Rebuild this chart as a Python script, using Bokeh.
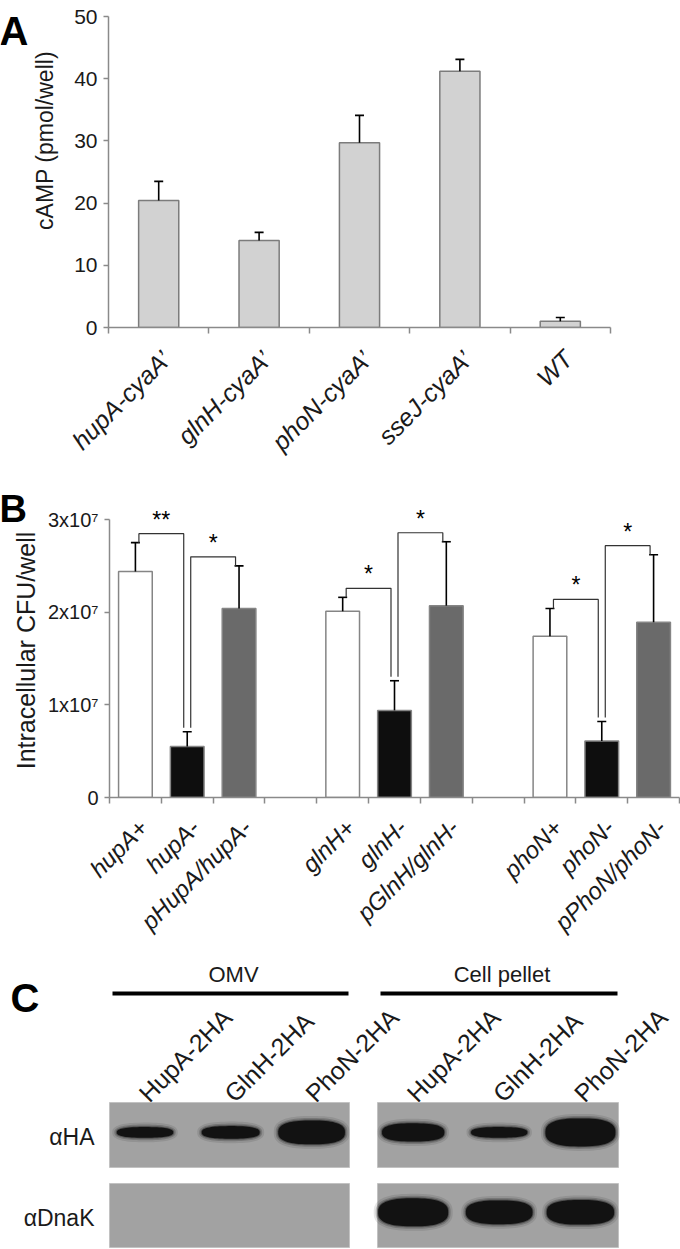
import numpy as np
from bokeh.plotting import figure
from bokeh.models import Range1d, FixedTicker
from bokeh.layouts import column, row
from bokeh.embed import file_html
from bokeh.resources import INLINE
from bokeh.core.properties import value

# ---------------- data ----------------
# Panel A: cAMP (pmol/well)
a_categories = ["hupA-cyaA\u2019", "glnH-cyaA\u2019", "phoN-cyaA\u2019", "sseJ-cyaA\u2019", "WT"]
a_camp = [20.4, 14.0, 29.7, 41.2, 1.0]
a_sd = [3.1, 1.3, 4.4, 1.9, 0.6]
a_yticks = [0, 10, 20, 30, 40, 50]

# Panel B: intracellular CFU/well
b_strains = ["hupA+", "hupA-", "pHupA/hupA-",
             "glnH+", "glnH-", "pGlnH/glnH-",
             "phoN+", "phoN-", "pPhoN/phoN-"]
b_kind = ["wild type", "mutant", "complemented"] * 3
b_cfu = [2.44e7, 0.55e7, 2.04e7, 2.01e7, 0.94e7, 2.07e7, 1.74e7, 0.61e7, 1.89e7]
b_sd = [0.31e7, 0.16e7, 0.46e7, 0.15e7, 0.32e7, 0.69e7, 0.30e7, 0.21e7, 0.73e7]
b_pairs = [(0, 1), (1, 2), (3, 4), (4, 5), (6, 7), (7, 8)]
b_stars = ["**", "*", "*", "*", "*", "*"]
b_yticks = [0, 1e7, 2e7, 3e7]
b_ytick_labels = ["0", "1x10\u2077", "2x10\u2077", "3x10\u2077"]

# Panel C: western blot (relative band signal per lane)
c_fractions = ["OMV", "Cell pellet"]
c_lanes = ["HupA-2HA", "GlnH-2HA", "PhoN-2HA"]
c_antibodies = ["\u03b1HA", "\u03b1DnaK"]
ha_omv = [0.38, 0.45, 0.85]
ha_pellet = [0.65, 0.38, 1.0]
dnak_omv = [0.0, 0.0, 0.0]
dnak_pellet = [1.0, 0.85, 0.88]

# ---------------- style ----------------
FONT = "Liberation Sans"
W = 680
AXIS_COLOR = "#8a8a8a"
TEXT_COLOR = "#1a1a1a"
C45 = np.cos(np.pi / 4)

# Arial / Liberation Sans advance widths (em) used to place rotated labels
ADV = {"h": .556, "u": .556, "p": .556, "A": .667, "-": .333, "c": .5, "y": .5,
       "a": .556, "\u2019": .222, "g": .556, "l": .222, "n": .556, "H": .722,
       "o": .556, "N": .722, "s": .5, "e": .556, "J": .5, "W": .944, "T": .611,
       "+": .584, "/": .278, "G": .778, "P": .667, "2": .556}


def text_len(s, size):
    return size * sum(ADV.get(ch, .556) for ch in s)


def style_axes(p):
    p.grid.visible = False
    p.outline_line_color = None
    p.background_fill_color = "white"
    p.border_fill_color = "white"
    for ax in p.axis:
        ax.axis_line_color = AXIS_COLOR
        ax.axis_line_width = 1.5
        ax.major_tick_line_color = AXIS_COLOR
        ax.major_tick_line_width = 1.5
        ax.minor_tick_line_color = AXIS_COLOR
        ax.minor_tick_line_width = 1.5
        ax.major_label_text_font = FONT
        ax.major_label_text_color = TEXT_COLOR
        ax.axis_label = None


def blank(width, height):
    p = figure(width=width, height=height, x_range=Range1d(0, width),
               y_range=Range1d(0, height), output_backend="svg",
               toolbar_location=None, title=None, min_border=0,
               x_axis_location=None, y_axis_location=None, frame_align=False)
    p.grid.visible = False
    p.outline_line_color = None
    p.background_fill_color = "white"
    p.border_fill_color = "white"
    return p


def category_axis(p, n):
    # boundary ticks only (Excel style); category names drawn below the axis
    p.xaxis.ticker = FixedTicker(ticks=[], minor_ticks=list(range(n + 1)))
    p.xaxis.major_tick_out = 0
    p.xaxis.major_tick_in = 0
    p.xaxis.minor_tick_out = 6
    p.xaxis.minor_tick_in = 0
    p.xaxis.major_label_standoff = 0


def rotated_labels(fig, fig_top, labels, end_x, end_y, size, style):
    """45 deg labels whose baseline ends at (end_x, end_y) page pixels."""
    hgt = fig.height
    sx, sy = [], []
    for lab, ex in zip(labels, end_x):
        L = text_len(lab, size) * C45
        sx.append(ex - L)
        sy.append(hgt - (end_y + L - fig_top))
    fig.text(x=sx, y=sy, text=labels, angle=np.pi / 4, text_font=value(FONT),
             text_font_size=f"{size}px", text_font_style=style, text_align="left",
             text_baseline="alphabetic", text_color=TEXT_COLOR)


# ================= Panel A =================
SA = 62                       # left strip width
HA1, HA2 = 340, 140           # chart height / label strip height
a_left, a_right, a_top, a_axis = 108, 610, 16, 327
na = len(a_categories)
pA = figure(width=W - SA, height=HA1, x_range=Range1d(0, na), y_range=Range1d(0, 50),
            output_backend="svg", toolbar_location=None, title=None, frame_align=False,
            min_border_left=a_left - SA, min_border_right=W - a_right,
            min_border_top=a_top, min_border_bottom=HA1 - a_axis)
style_axes(pA)
category_axis(pA, na)

a_x = [i + 0.5 for i in range(na)]
a_hi = [v + e for v, e in zip(a_camp, a_sd)]
pA.vbar(x=a_x, top=a_camp, width=0.4, bottom=0, fill_color="#d2d2d2",
        line_color="#7c7c7c", line_width=1.5)
pA.segment(x0=a_x, y0=a_camp, x1=a_x, y1=a_hi, line_color="black", line_width=1.6)
pxA = (a_right - a_left) / na
capA = 4.5 / pxA
pA.segment(x0=[x - capA for x in a_x], y0=a_hi, x1=[x + capA for x in a_x], y1=a_hi,
           line_color="black", line_width=1.6)

pA.yaxis.ticker = FixedTicker(ticks=a_yticks)
pA.yaxis.major_tick_out = 5
pA.yaxis.major_tick_in = 0
pA.yaxis.minor_tick_line_color = None
pA.yaxis.major_label_text_font_size = "21px"
pA.yaxis.major_label_standoff = 6

stripA = blank(SA, HA1)
stripA.text(x=[-1], y=[HA1 - 30], text=["A"], text_font=value(FONT), text_font_size="40px",
            text_font_style="bold", text_align="left", text_baseline="alphabetic",
            text_color="black")
stripA.text(x=[44], y=[HA1 - 140], text=["cAMP (pmol/well)"], angle=np.pi / 2,
            text_font=value(FONT), text_font_size="23px", text_align="center",
            text_baseline="middle", text_color=TEXT_COLOR)

labA = blank(W, HA2)
rotated_labels(labA, HA1, a_categories, [a_left + xx * pxA + 8 for xx in a_x],
               a_axis + 27, 25, "italic")

# ================= Panel B =================
SB = 42
OB = HA1 + HA2                # page y of panel B top (480)
HB1 = 330
b_left, b_right = 109, 679
b_y0, b_y3 = 797 - OB, 519 - OB    # local y of 0 and 3e7
nslots = 11
pyB = (b_y0 - b_y3) / 3e7
ymaxB = 3e7 + (b_y3 - 2) / pyB
pB = figure(width=W - SB, height=HB1, x_range=Range1d(0, nslots),
            y_range=Range1d(0, ymaxB),
            output_backend="svg", toolbar_location=None, title=None, frame_align=False,
            min_border_left=b_left - SB, min_border_right=W - b_right,
            min_border_top=2, min_border_bottom=HB1 - b_y0)
style_axes(pB)
category_axis(pB, nslots)
pxB = (b_right - b_left) / nslots

b_x = [(i // 3) * 4 + (i % 3) + 0.5 for i in range(len(b_strains))]
b_hi = [v + e for v, e in zip(b_cfu, b_sd)]
kind_colors = {"wild type": "white", "mutant": "#0e0e0e", "complemented": "#6a6a6a"}
b_colors = [kind_colors[k] for k in b_kind]
pB.vbar(x=b_x, top=b_cfu, width=0.65, bottom=0, fill_color=b_colors,
        line_color="#858585", line_width=1.5)
pB.segment(x0=b_x, y0=b_cfu, x1=b_x, y1=b_hi, line_color="black", line_width=1.6)
capB = 4.5 / pxB
pB.segment(x0=[x - capB for x in b_x], y0=b_hi, x1=[x + capB for x in b_x], y1=b_hi,
           line_color="black", line_width=1.6)

# significance brackets
xs, ys, sx, sy = [], [], [], []
leg = 3.5 / pxB
for (i, j), s in zip(b_pairs, b_stars):
    top = max(b_hi[i], b_hi[j]) + 9 / pyB
    xl, xr = b_x[i] + leg, b_x[j] - leg
    yl = b_hi[i] + (0 if b_hi[i] >= b_hi[j] else 4 / pyB)
    yr = b_hi[j] + (0 if b_hi[j] >= b_hi[i] else 4 / pyB)
    xs.append([xl, xl, xr, xr])
    ys.append([yl, top, top, yr])
    sx.append((xl + xr) / 2)
    sy.append(top + 1 / pyB)
pB.multi_line(xs=xs, ys=ys, line_color="#333333", line_width=1.2)
pB.text(x=sx, y=sy, text=b_stars, text_font=value(FONT), text_font_size="23px",
        text_align="center", text_baseline="bottom", text_color="black")

pB.yaxis.ticker = FixedTicker(ticks=b_yticks)
pB.yaxis.bounds = (0, 3e7)
pB.yaxis.major_label_overrides = {t: l for t, l in zip(b_yticks, b_ytick_labels)}
pB.yaxis.major_tick_out = 5
pB.yaxis.major_tick_in = 0
pB.yaxis.minor_tick_line_color = None
pB.yaxis.major_label_text_font_size = "20px"
pB.yaxis.major_label_standoff = 6

stripB = blank(SB, HB1)
stripB.text(x=[-1], y=[HB1 - 28], text=["B"], text_font=value(FONT), text_font_size="38px",
            text_font_style="bold", text_align="left", text_baseline="alphabetic",
            text_color="black")
stripB.text(x=[25], y=[HB1 - 170], text=["Intracellular CFU/well"], angle=np.pi / 2,
            text_font=value(FONT), text_font_size="25px", text_align="center",
            text_baseline="middle", text_color=TEXT_COLOR)

# ====== lower block: panel B category names + panel C (one canvas) ======
OL = OB + HB1                 # page y of this block (810)
HL = 1249 - OL
pL = blank(W, HL)
rotated_labels(pL, OL, b_strains, [b_left + xx * pxB + 8 for xx in b_x],
               797 + 26, 24, "italic")


def Y(page_y):
    return HL - (page_y - OL)


pL.text(x=[10], y=[Y(997)], text=["C"], text_font=value(FONT), text_font_size="40px",
        text_font_style="bold", text_align="left", text_baseline="alphabetic",
        text_color="black")

panels = [(109, 349), (377, 618)]
rows = [(1102, 1167), (1183, 1247)]
signals = {(0, 0): ha_omv, (0, 1): ha_pellet, (1, 0): dnak_omv, (1, 1): dnak_pellet}
lane_frac = [0.148, 0.505, 0.842]

for (l, r), name in zip(panels, c_fractions):
    pL.text(x=[(l + r) / 2 + 4], y=[Y(974)], text=[name], text_font=value(FONT),
            text_font_size="22px", text_align="center", text_baseline="middle",
            text_color=TEXT_COLOR)
    pL.segment(x0=[l + 3], y0=[Y(993)], x1=[r - 1], y1=[Y(993)], line_color="black",
               line_width=4)
    lx = [l + f * (r - l) - 2 for f in lane_frac]
    pL.text(x=lx, y=[Y(1097)] * 3, text=c_lanes, angle=np.pi / 4, text_font=value(FONT),
            text_font_size="25px", text_align="left", text_baseline="alphabetic",
            text_color=TEXT_COLOR)

pL.text(x=[94, 94], y=[Y((t + b) / 2 + 2) for t, b in rows], text=c_antibodies,
        text_font=value(FONT), text_font_size="23px", text_align="right",
        text_baseline="middle", text_color=TEXT_COLOR)

for ri, (t, b) in enumerate(rows):
    for l, r in panels:
        pL.quad(left=[l], right=[r], top=[Y(t)], bottom=[Y(b)],
                fill_color="#a2a2a2", line_color="#c2c2c2", line_width=1)


def superellipse(cx, cy, a, b, n=2.6, m=72):
    t = np.linspace(0, 2 * np.pi, m)
    c, s = np.cos(t), np.sin(t)
    xs_ = cx + a * np.sign(c) * np.abs(c) ** (2 / n)
    ys_ = cy + b * np.sign(s) * np.abs(s) ** (2 / n)
    return list(xs_), list(ys_)


layers = [(9, 0.10), (5, 0.2), (2, 0.35), (0, 0.9)]
for grow, alpha in layers:
    bx, by = [], []
    for (ri, pi_), sig in signals.items():
        t, b = rows[ri]
        l, r = panels[pi_]
        cy = t + (b - t) * (0.46 if ri == 0 else 0.45)
        for f, s in zip(lane_frac, sig):
            if s <= 0:
                continue
            cx = l + f * (r - l)
            w = 48 + 22 * s
            h = 28 * s
            px, py = superellipse(cx, Y(cy), (w + grow) / 2, (h + grow) / 2)
            bx.append(px)
            by.append(py)
    pL.patches(xs=bx, ys=by, fill_color="#0b0b0b", fill_alpha=alpha, line_color=None)

layout = column(row(stripA, pA, spacing=0), labA,
                row(stripB, pB, spacing=0), pL, spacing=0)
open("out.html", "w").write(file_html(layout, INLINE))
